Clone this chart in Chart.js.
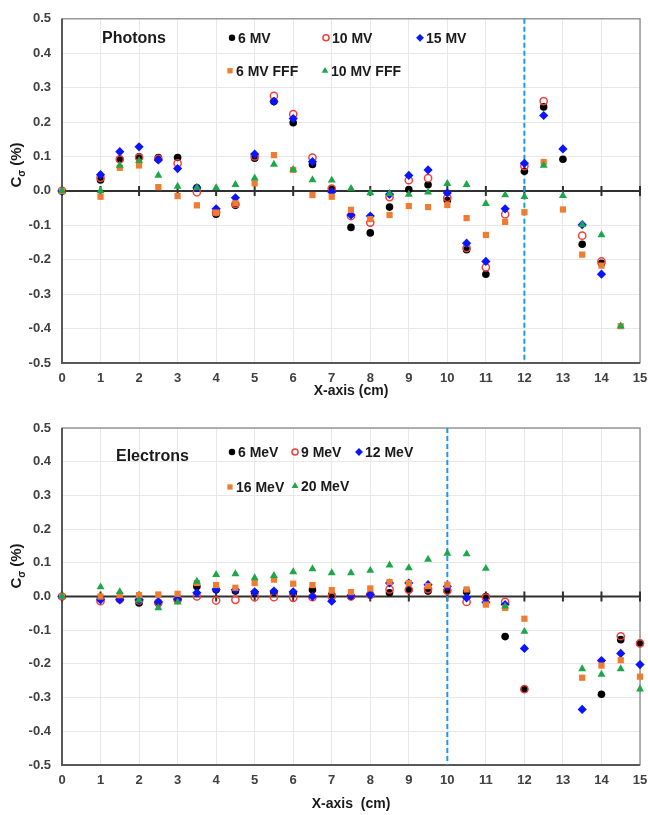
<!DOCTYPE html>
<html>
<head>
<meta charset="utf-8">
<script src="https://cdn.jsdelivr.net/npm/chart.js@4.4.1/dist/chart.umd.min.js"></script>
<style>
  body { margin: 0; background: #fff; }
  canvas { display: block; }
</style>
</head>
<body>
<canvas id="photons" width="648" height="400"></canvas>
<canvas id="electrons" width="648" height="415"></canvas>
<script>
// ---- data ----
const photonX = [0, 1, 1.5, 2, 2.5, 3, 3.5, 4, 4.5, 5, 5.5, 6, 6.5, 7, 7.5, 8, 8.5, 9, 9.5, 10, 10.5, 11, 11.5, 12, 12.5, 13, 13.5, 14, 14.5];
const mv6     = [0, 0.032, 0.092, 0.099, 0.097, 0.097, 0.009, -0.068, -0.042, 0.095, 0.26, 0.198, 0.077, 0.005, -0.106, -0.122, -0.047, 0.004, 0.018, -0.028, -0.171, -0.242, null, 0.057, 0.244, 0.092, -0.155, -0.21, null];
const mv10    = [0, 0.038, 0.092, 0.097, 0.093, 0.08, -0.004, -0.062, -0.038, 0.1, 0.276, 0.223, 0.097, 0.007, -0.073, -0.092, -0.018, 0.031, 0.037, -0.02, -0.166, -0.222, -0.068, 0.072, 0.261, null, -0.13, -0.205, null];
const mv15    = [0, 0.047, 0.114, 0.128, 0.09, 0.065, 0.009, -0.052, -0.02, 0.107, 0.26, 0.21, 0.085, -0.003, -0.07, -0.073, -0.01, 0.045, 0.061, -0.006, -0.152, -0.205, -0.052, 0.08, 0.219, 0.122, -0.098, -0.242, null];
const mv6fff  = [0, -0.017, 0.067, 0.074, 0.011, -0.015, -0.042, -0.063, -0.036, 0.022, 0.104, 0.061, -0.012, -0.017, -0.055, -0.082, -0.07, -0.044, -0.047, -0.041, -0.079, -0.128, -0.09, -0.062, 0.084, -0.054, -0.185, -0.217, -0.393];
const mv10fff = [0, 0, 0.074, 0.088, 0.045, 0.013, 0.009, 0.009, 0.018, 0.037, 0.077, 0.062, 0.032, 0.031, 0.007, -0.006, -0.008, -0.01, -0.004, 0.021, 0.018, -0.037, -0.012, -0.017, 0.074, -0.014, -0.098, -0.128, -0.393];

const electronX = [0, 1, 1.5, 2, 2.5, 3, 3.5, 4, 4.5, 5, 5.5, 6, 6.5, 7, 7.5, 8, 8.5, 9, 9.5, 10, 10.5, 11, 11.5, 12, 13.5, 14, 14.5, 15];
const mev6  = [0, -0.005, -0.006, -0.019, -0.02, -0.008, 0.03, 0.02, 0.016, 0.01, 0.012, 0.01, 0.02, 0.005, 0, 0.006, 0.011, 0.02, 0.016, 0.018, 0.014, 0, -0.119, -0.275, null, -0.29, -0.128, -0.139];
const mev9  = [0, -0.014, -0.008, -0.012, -0.018, -0.01, 0, -0.012, -0.01, -0.002, -0.002, -0.004, -0.002, 0, 0, 0.005, 0.021, 0.02, 0.022, 0.017, -0.016, -0.003, -0.016, -0.275, null, null, -0.118, -0.139];
const mev12 = [0, -0.01, -0.01, -0.01, -0.016, -0.008, 0.011, 0.021, 0.02, 0.014, 0.016, 0.014, 0, -0.014, 0.002, 0.005, 0.04, 0.04, 0.035, 0.03, -0.004, -0.017, -0.024, -0.154, -0.335, -0.19, -0.169, -0.202];
const mev16 = [0, 0, 0.004, 0.004, 0.006, 0.008, 0.04, 0.034, 0.026, 0.04, 0.05, 0.038, 0.034, 0.019, 0.013, 0.024, 0.043, 0.04, 0.031, 0.035, 0.021, -0.024, -0.034, -0.066, -0.241, -0.205, -0.189, -0.238];
const mev20 = [0, 0.028, 0.014, -0.011, -0.034, -0.017, 0.045, 0.065, 0.067, 0.055, 0.062, 0.073, 0.082, 0.07, 0.07, 0.077, 0.093, 0.085, 0.11, 0.128, 0.126, 0.083, -0.029, -0.104, -0.215, -0.231, -0.215, -0.275];

const photonLabels = ['6 MV', '10 MV', '15 MV', '6 MV FFF', '10 MV FFF'];
const electronLabels = ['6 MeV', '9 MeV', '12 MeV', '16 MeV', '20 MeV'];
const photonRef = 12;
const electronRef = 10;
const xTicks = { min: 0, max: 15, step: 1 };
const yTicks = { min: -0.5, max: 0.5, step: 0.1 };

// marker styles, in series order
const styles = [
  { pointStyle: 'circle', pointRadius: 3.8, backgroundColor: '#000', borderColor: '#000', borderWidth: 0 },
  { pointStyle: 'circle', pointRadius: 3.6, backgroundColor: 'rgba(0,0,0,0)', borderColor: '#f0403c', borderWidth: 1.5 },
  { pointStyle: 'rectRot', pointRadius: 4.6, backgroundColor: '#0a14ff', borderColor: '#0a14ff', borderWidth: 0 },
  { pointStyle: 'rect', pointRadius: 4.4, backgroundColor: '#ee7d31', borderColor: '#ee7d31', borderWidth: 0 },
  { pointStyle: 'triangle', pointRadius: 4.6, backgroundColor: '#1ea64b', borderColor: '#1ea64b', borderWidth: 0 }
];

function makeSets(xs, series, labels) {
  return series.map((ys, i) => ({
    label: labels[i],
    data: xs.map((x, j) => ({ x: x, y: ys[j] })).filter(p => p.y !== null),
    showLine: false,
    clip: false,
    order: series.length - i,   // later series on top, like the original
    pointHoverRadius: styles[i].pointRadius,
    ...styles[i]
  }));
}

const FONT = "'Liberation Sans', Arial, sans-serif";
const INK = '#404040';

const decor = {
  id: 'decor',
  beforeDatasetsDraw(chart, args, opts) {
    const { ctx, chartArea: a, scales: { x, y } } = chart;
    ctx.save();
    // frame
    ctx.strokeStyle = '#8a8a8a';
    ctx.lineWidth = 1.3;
    ctx.strokeRect(a.left, a.top, a.width, a.height);
    ctx.strokeStyle = '#595959';
    ctx.lineWidth = 2;
    ctx.beginPath();
    ctx.moveTo(a.left, a.top); ctx.lineTo(a.left, a.bottom); ctx.lineTo(a.right, a.bottom);
    ctx.stroke();
    // zero line with cross tick marks
    const y0 = y.getPixelForValue(0);
    ctx.strokeStyle = '#303030';
    ctx.lineWidth = 2;
    ctx.beginPath();
    ctx.moveTo(a.left, y0); ctx.lineTo(a.right, y0);
    x.ticks.forEach(t => {
      const px = x.getPixelForValue(t.value);
      ctx.moveTo(px, y0 - 5); ctx.lineTo(px, y0 + 5);
    });
    ctx.stroke();
    // dashed reference line
    const rx = x.getPixelForValue(opts.refX);
    ctx.strokeStyle = '#1c9be3';
    ctx.lineWidth = 2;
    ctx.setLineDash([5, 3]);
    ctx.beginPath();
    ctx.moveTo(rx, a.top); ctx.lineTo(rx, a.bottom);
    ctx.stroke();
    ctx.restore();
  },
  afterDraw(chart, args, opts) {
    const { ctx, chartArea: a } = chart;
    ctx.save();
    ctx.fillStyle = '#1a1a1a';
    ctx.textBaseline = 'middle';
    ctx.font = 'bold 16px ' + FONT;
    ctx.fillText(opts.title, a.left + opts.titlePos[0], a.top + opts.titlePos[1]);
    ctx.font = 'bold 14px ' + FONT;
    chart.data.datasets.forEach((ds, i) => {
      const [mx, my] = opts.slots[i];
      const px = a.left + mx, py = a.top + my;
      ctx.fillStyle = ds.backgroundColor;
      ctx.strokeStyle = ds.borderColor;
      ctx.lineWidth = ds.borderWidth;
      Chart.helpers.drawPoint(ctx, {
        pointStyle: ds.pointStyle, radius: ds.pointRadius * 0.85, rotation: 0, borderWidth: ds.borderWidth
      }, px, py);
      ctx.fillStyle = '#1a1a1a';
      ctx.fillText(ds.label, px + 6, py + 1);
    });
    // y axis title with subscript sigma
    ctx.translate(17, opts.yTitleY);
    ctx.rotate(-Math.PI / 2);
    ctx.fillStyle = '#1a1a1a';
    ctx.textAlign = 'left';
    ctx.font = 'bold 15px ' + FONT;
    const full = ctx.measureText('C').width;
    ctx.font = 'bold 10px ' + FONT;
    const sub = ctx.measureText('σ').width;
    ctx.font = 'bold 15px ' + FONT;
    const rest = ctx.measureText(' (%)').width;
    let cx = -(full + sub + rest) / 2;
    ctx.fillText('C', cx, 0);
    cx += full;
    ctx.font = 'bold 10px ' + FONT;
    ctx.fillText('σ', cx, 5);
    cx += sub;
    ctx.font = 'bold 15px ' + FONT;
    ctx.fillText(' (%)', cx, 0);
    ctx.restore();
  }
};

function build(id, xs, series, labels, cfg) {
  const el = document.getElementById(id);
  return new Chart(el.getContext('2d'), {
    type: 'scatter',
    data: { datasets: makeSets(xs, series, labels) },
    plugins: [decor],
    options: {
      responsive: false,
      animation: false,
      events: [],
      layout: { padding: { top: cfg.top, right: 0, left: 0, bottom: 0 } },
      plugins: {
        legend: { display: false },
        tooltip: { enabled: false },
        decor: cfg.decor
      },
      scales: {
        x: {
          type: 'linear',
          min: xTicks.min, max: xTicks.max,
          ticks: { stepSize: xTicks.step, color: INK, padding: 8, font: { family: FONT, size: 13, weight: 'bold' }, maxRotation: 0 },
          grid: { color: '#e8e8e8', drawTicks: false },
          border: { display: false },
          title: { display: true, text: cfg.xTitle, color: '#1a1a1a', font: { family: FONT, size: 14, weight: 'bold' }, padding: { top: 0, bottom: cfg.titlePad } },
          afterFit: s => { s.height = cfg.xHeight; s.paddingLeft = 0; s.paddingRight = 8; }
        },
        y: {
          min: yTicks.min, max: yTicks.max,
          ticks: {
            stepSize: yTicks.step, color: INK, padding: 11,
            font: { family: FONT, size: 13, weight: 'bold' },
            callback: v => Math.abs(v) < 1e-9 ? '0.0' : v.toFixed(1)
          },
          grid: { color: '#e8e8e8', drawTicks: false },
          border: { display: false },
          afterFit: s => { s.width = 62; }
        }
      }
    }
  });
}

build('photons', photonX, [mv6, mv10, mv15, mv6fff, mv10fff], photonLabels, {
  top: 14, xHeight: 37, titlePad: 0, xTitle: 'X-axis (cm)',
  decor: {
    refX: photonRef, title: 'Photons', titlePos: [40, 20], yTitleY: 165,
    slots: [[170, 19], [264, 19], [358, 19], [168, 52], [263, 52]]
  }
});

build('electrons', electronX, [mev6, mev9, mev12, mev16, mev20], electronLabels, {
  top: 28, xHeight: 50, titlePad: 2, xTitle: 'X-axis  (cm)',
  decor: {
    refX: electronRef, title: 'Electrons', titlePos: [54, 29], yTitleY: 166,
    slots: [[170, 24], [233, 24], [297, 24], [168, 59], [233, 58]]
  }
});
</script>
</body>
</html>
